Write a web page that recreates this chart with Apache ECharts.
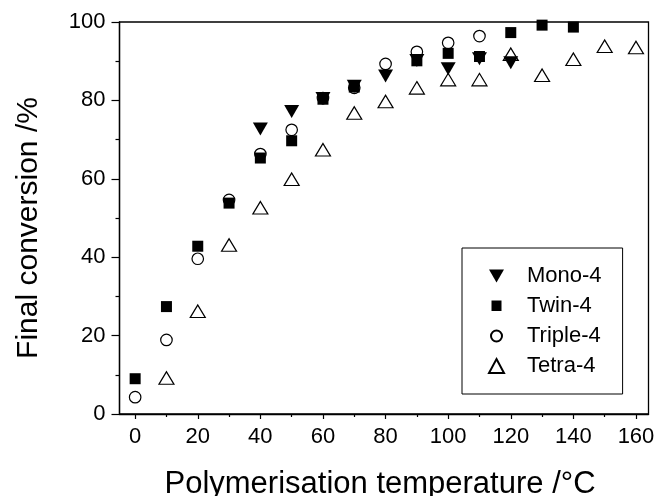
<!DOCTYPE html>
<html>
<head>
<meta charset="utf-8">
<script src="https://cdn.jsdelivr.net/npm/echarts@6/dist/echarts.min.js"></script>
<style>html,body{margin:0;padding:0;background:#fff}#c{width:658px;height:496px}</style>
</head>
<body>
<div id="c"></div>
<script>
// ---- data ----
const seriesNames = ['Mono-4', 'Twin-4', 'Triple-4', 'Tetra-4'];
const monoT = [40, 50, 60, 70, 80, 90, 100, 110, 120];
const monoV = [72.7, 77.2, 80.5, 83.6, 86.2, 90.2, 88.1, 90.6, 89.6];
const twinT = [0, 10, 20, 30, 40, 50, 60, 70, 90, 100, 110, 120, 130, 140];
const twinV = [9.0, 27.4, 42.8, 53.8, 65.3, 69.7, 80.3, 83.4, 90.1, 92.0, 91.2, 97.3, 99.2, 98.7];
const tripleT = [0, 10, 20, 30, 40, 50, 60, 70, 80, 90, 100, 110];
const tripleV = [4.3, 18.9, 39.6, 54.6, 66.3, 72.5, 80.6, 83.2, 89.3, 92.4, 94.7, 96.4];
const tetraT = [10, 20, 30, 40, 50, 60, 70, 80, 90, 100, 110, 120, 130, 140, 150, 160];
const tetraV = [9.2, 26.2, 43.1, 52.6, 59.9, 67.4, 76.8, 79.7, 83.2, 85.3, 85.3, 91.8, 86.4, 90.5, 93.8, 93.5];
const xMajorTicks = [0, 20, 40, 60, 80, 100, 120, 140, 160];
const xMinorTicks = [10, 30, 50, 70, 90, 110, 130, 150];
const xTitle = 'Polymerisation temperature /°C';
const yTitle = 'Final conversion /%';

const zip = (a, b) => a.map((t, i) => [t, b[i]]);
const FONT = "'Liberation Sans', Arial, Helvetica, sans-serif";
const downTri = 'path://M0,0 L15,0 L7.5,13 Z';
const legSquare = 'path://M0,0 M15,14 M2.5,1.5 L12.5,1.5 L12.5,12 L2.5,12 Z';
const legCircle = 'path://M0,0 M15,14 M2,7 A5.5,5.5 0 1,0 13,7 A5.5,5.5 0 1,0 2,7 Z';

const chart = echarts.init(document.getElementById('c'), null, {renderer: 'canvas'});
chart.setOption({
  animation: false,
  backgroundColor: '#fff',
  textStyle: {fontFamily: FONT, color: '#000'},
  grid: {left: 119.5, right: 9.5, top: 22, bottom: 82, containLabel: false, outerBoundsMode: 'none',
         show: true, borderColor: '#000', borderWidth: 1.3, backgroundColor: 'transparent'},
  legend: {
    left: 462, top: 248, orient: 'vertical',
    padding: [17, 21, 17, 26],
    itemWidth: 15, itemHeight: 14, itemGap: 8,
    borderColor: '#000', borderWidth: 1, borderRadius: 0,
    textStyle: {fontFamily: FONT, fontSize: 22, color: '#000', lineHeight: 22, padding: [0, 0, 0, 18]},
    data: [
      {name: seriesNames[0], icon: downTri},
      {name: seriesNames[1], icon: legSquare},
      {name: seriesNames[2], icon: legCircle},
      {name: seriesNames[3], icon: 'triangle'}
    ]
  },
  xAxis: [{
    type: 'value', min: -5, max: 164, position: 'bottom',
    name: xTitle, nameLocation: 'middle', nameGap: 55,
    nameTextStyle: {fontFamily: FONT, fontSize: 31, color: '#000', padding: [0, 8, 0, 0]},
    axisLine: {show: true, onZero: false, lineStyle: {color: '#000', width: 1.3}},
    axisTick: {show: true, inside: false, length: 5, customValues: xMajorTicks, lineStyle: {color: '#000', width: 1.2}},
    axisLabel: {show: true, customValues: xMajorTicks, fontFamily: FONT, fontSize: 22, color: '#000', margin: 12},
    splitLine: {show: false}
  }, {
    type: 'value', min: -5, max: 164, position: 'bottom', offset: 0,
    axisLine: {show: false, onZero: false},
    axisTick: {show: true, inside: false, length: 3, customValues: xMinorTicks, lineStyle: {color: '#000', width: 1.2}},
    axisLabel: {show: false},
    splitLine: {show: false}
  }],
  yAxis: {
    type: 'value', min: 0, max: 100, interval: 20,
    name: yTitle, nameLocation: 'middle', nameGap: 76, nameRotate: 90,
    nameTextStyle: {fontFamily: FONT, fontSize: 30, color: '#000', padding: [0, 20, 0, 0]},
    axisLine: {show: true, onZero: false, lineStyle: {color: '#000', width: 1.3}},
    axisTick: {show: true, inside: false, length: 8, lineStyle: {color: '#000', width: 1.2}},
    minorTick: {show: true, splitNumber: 2, length: 4, lineStyle: {color: '#000', width: 1.2}},
    axisLabel: {fontFamily: FONT, fontSize: 22, color: '#000', margin: 14},
    splitLine: {show: false}
  },
  series: [
    {name: seriesNames[0], type: 'scatter', clip: false, data: zip(monoT, monoV), symbol: downTri, symbolSize: [15, 13],
     itemStyle: {color: '#000', borderWidth: 0, opacity: 1}},
    {name: seriesNames[1], type: 'scatter', clip: false, data: zip(twinT, twinV), symbol: 'rect', symbolSize: 11,
     itemStyle: {color: '#000', borderWidth: 0, opacity: 1}},
    {name: seriesNames[2], type: 'scatter', clip: false, data: zip(tripleT, tripleV), symbol: 'circle', symbolSize: 11.5,
     itemStyle: {color: 'transparent', borderColor: '#000', borderWidth: 1.2, opacity: 1}},
    {name: seriesNames[3], type: 'scatter', clip: false, data: zip(tetraT, tetraV), symbol: 'triangle', symbolSize: [15, 12.5],
     itemStyle: {color: 'transparent', borderColor: '#000', borderWidth: 1.2, opacity: 1}}
  ]
});
</script>
</body>
</html>
